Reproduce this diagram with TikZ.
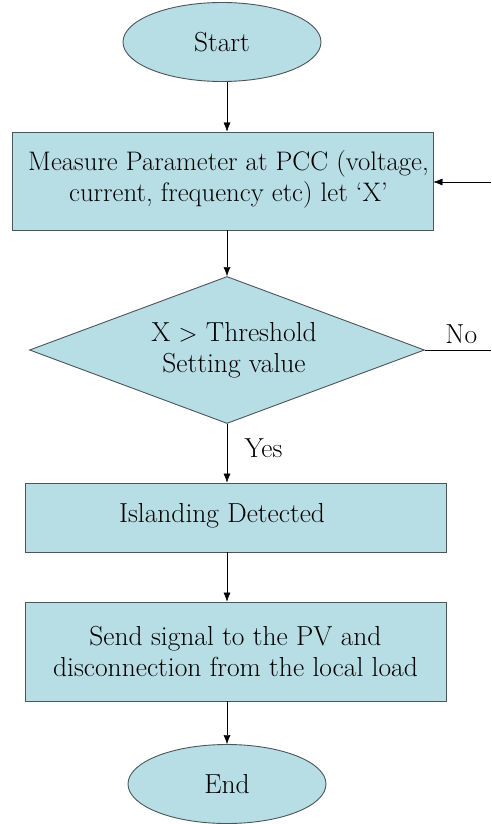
\documentclass[tikz,border=0pt]{standalone}
\usetikzlibrary{shapes.geometric,arrows.meta}
\definecolor{boxfill}{RGB}{183,221,229}
\definecolor{boxline}{RGB}{75,85,90}

\tikzset{
  flowbox/.style={draw=boxline, fill=boxfill, line width=0.9pt, inner sep=0pt, align=center},
  termbox/.style={flowbox, ellipse, minimum width=198pt, minimum height=79pt},
  procbox/.style={flowbox, rectangle, minimum width=421pt},
  testbox/.style={flowbox, diamond, minimum width=395pt, minimum height=147pt}
}

\begin{document}
\begin{tikzpicture}[x=1pt, y=-1pt, >={Latex[length=9pt,width=7pt]},
  every node/.style={font=\rmfamily\fontsize{27.5}{31}\selectfont}]
	\useasboundingbox (0,0) rectangle (491,824);
	% shapes of the flow
	\node[termbox] (start) at (222,42) {Start};
	\node[procbox, minimum height=98pt] (measure) at (222.5,181) {};
	\node[align=center, font=\rmfamily\fontsize{26.8}{31}\selectfont] (measuretext) at (228.5,179) {Measure Parameter at PCC (voltage,\\current, frequency etc) let `X'};
	\node[testbox] (decide) at (227,350) {};
	\node[align=center] (decidetext) at (234,350) {X $>$ Threshold\\Setting value};
	\node[procbox, minimum height=69pt] (island) at (235.5,517.5) {};
	\node (islandtext) at (222,516) {Islanding Detected};
	\node[procbox, minimum height=99pt] (send) at (235.5,651.5) {Send signal to the PV and\\disconnection from the local load};
	\node[termbox] (end) at (227,784) {End};
	\coordinate (feedin) at (491,182);
	\coordinate (noend) at (decide.east -| feedin);
	% connectors
	\draw[->] (start.south -| decide.north) -- (measure.north -| decide.north);
	\draw[->] (measure.south -| decide.north) -- (decide.north);
	\draw[->] (decide.south) -- (island.north -| decide.south) node[pos=0.42, right=14pt] {Yes};
	\draw[->] (island.south -| end.north) -- (send.north -| end.north);
	\draw[->] (send.south -| end.north) -- (end.north);
	\draw (decide.east) -- (noend) node[pos=0.55, above=3pt] {No};
	\draw[->] (feedin) -- (feedin -| measure.east);
\end{tikzpicture}
\end{document}
